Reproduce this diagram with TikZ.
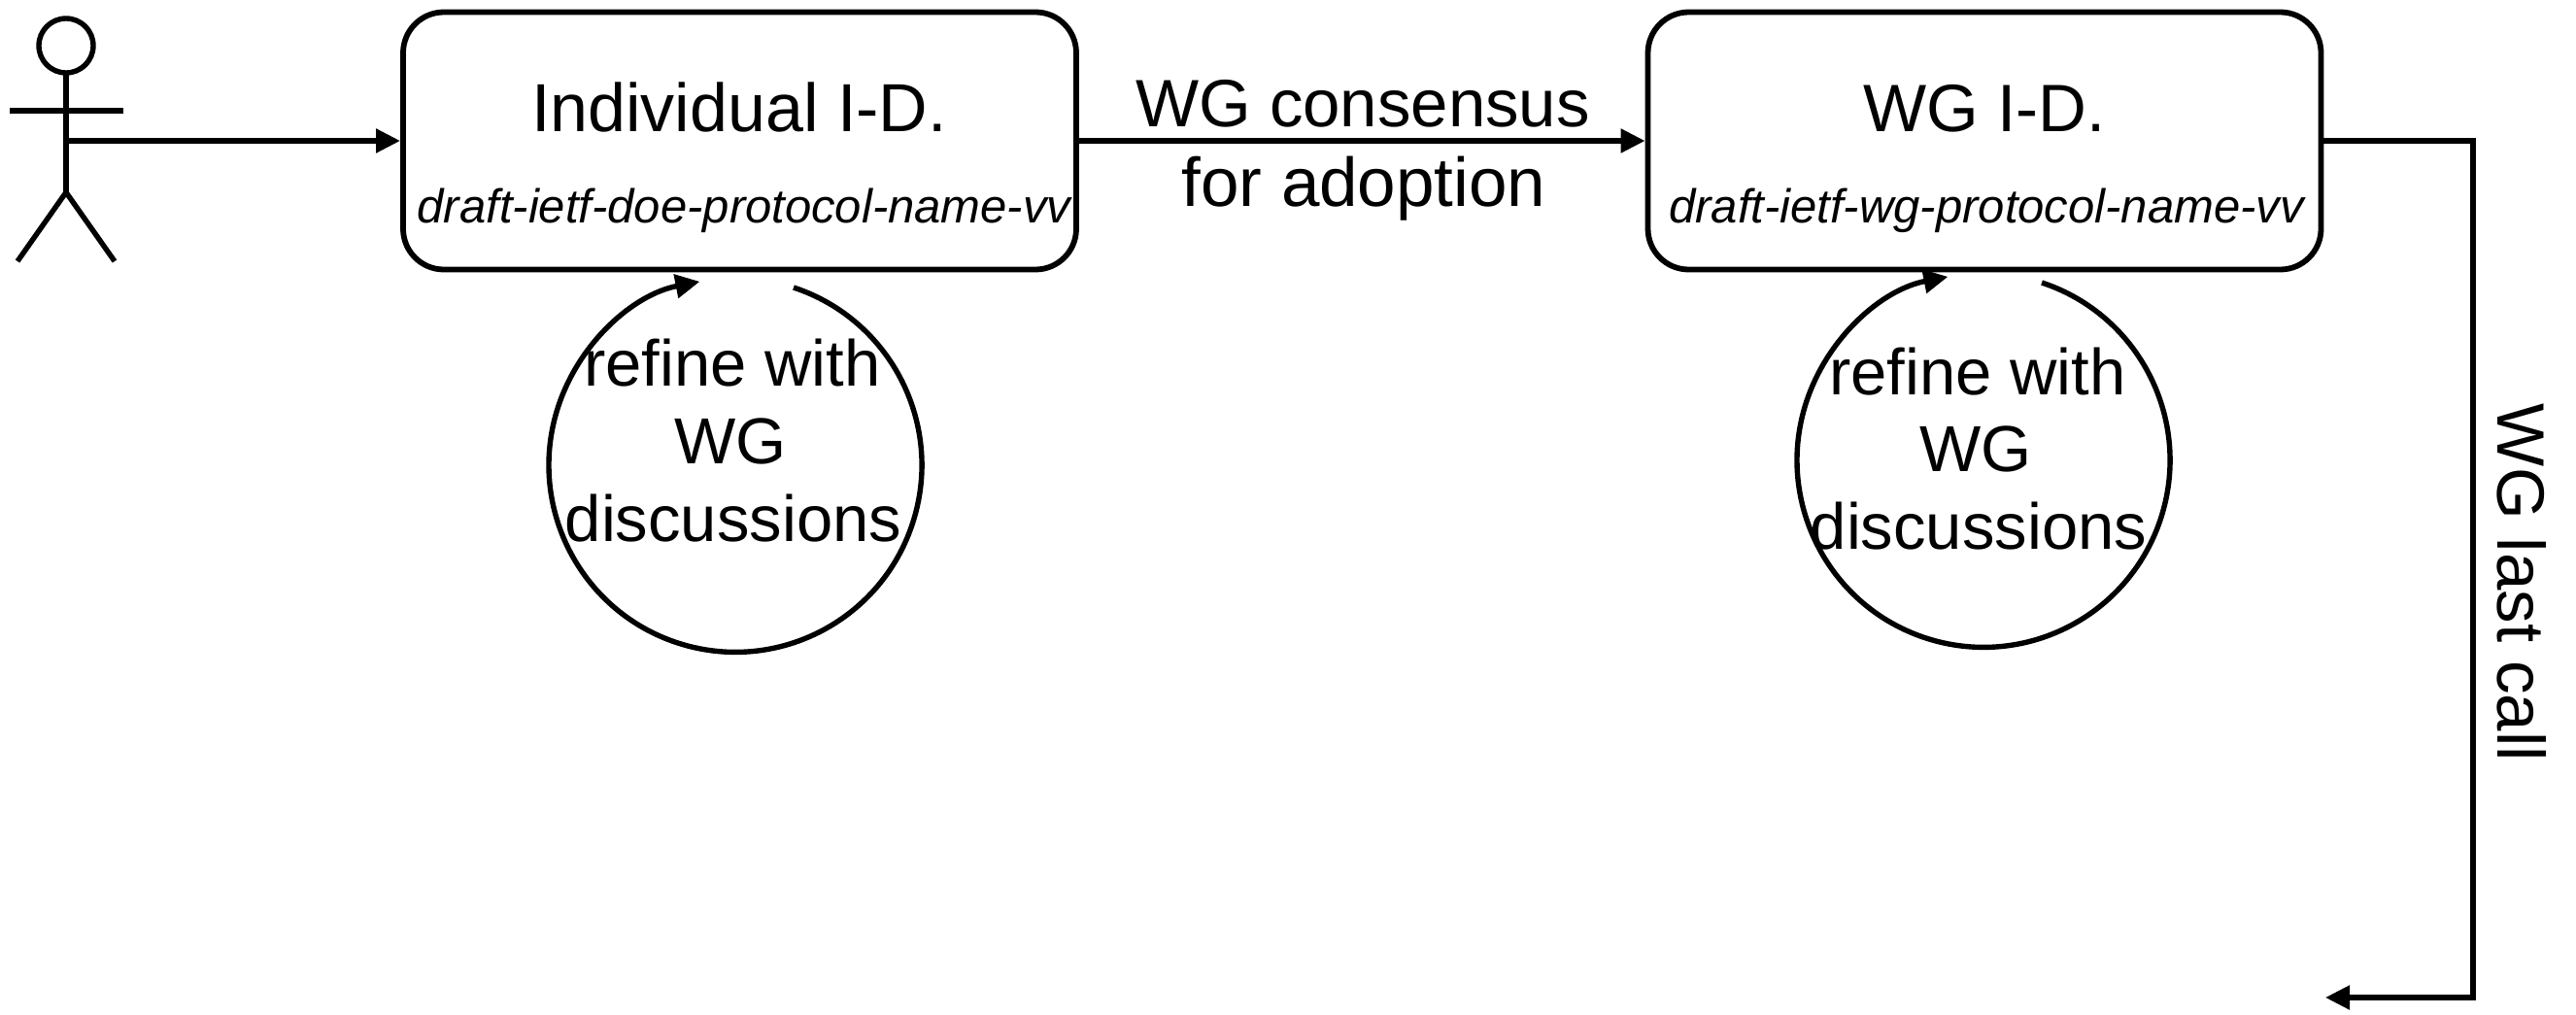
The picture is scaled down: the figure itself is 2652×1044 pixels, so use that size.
\documentclass[tikz,border=0pt]{standalone}
\usepackage{fontspec}
\setmainfont{Liberation Sans}
\usetikzlibrary{arrows.meta}
\tikzset{
  x=1pt,y=1pt,
  line/.style={line width=5.4pt,draw=black},
  arrowline/.style={line width=5.4pt,draw=black,-{Triangle[length=25pt,width=24pt]},shorten >=3pt},
  idbox/.style={draw=black,line width=5.8pt,rounded corners=42pt,minimum width=693pt,minimum height=265pt,inner sep=0pt,outer sep=0pt},
  big/.style={anchor=base,inner sep=0pt,font=\fontsize{69}{80}\selectfont},
  loopt/.style={anchor=base,inner sep=0pt,font=\fontsize{67}{80}\selectfont},
  large/.style={anchor=base,inner sep=0pt,font=\fontsize{70}{80}\selectfont},
  draftname/.style={anchor=base,inner sep=0pt,font=\fontsize{49}{60}\selectfont\itshape},
}
\begin{document}
\begin{tikzpicture}
\useasboundingbox (0,0) rectangle (2652,-1044);
% actor
\draw[line] (68,-47) circle (28);
\draw[line] (68,-75) -- (68,-198);
\draw[line] (10,-114) -- (127,-114);
\draw[line] (18,-269) -- (68,-198) -- (118,-269);
\coordinate (actor) at (68,-145);
% boxes
\node[idbox] (box1) at (761.5,-145) {};
\node[idbox] (box2) at (2043,-145) {};
\node[large] (t1) at (761,-135) {Individual I-D.};
\node[draftname] (d1) at (766,-229) {draft-ietf-doe-protocol-name-vv};
\node[big] (t2) at (2043,-135) {WG I-D.};
\node[draftname] (d2) at (2045,-229) {draft-ietf-wg-protocol-name-vv};
% connectors
\draw[arrowline] (actor) -- (box1.west);
\draw[arrowline] (box1.east) -- (box2.west);
\coordinate (turna) at (2546,-145);
\coordinate (turnb) at (2546,-1027);
\coordinate (exit) at (2391,-1027);
\draw[arrowline] (box2.east) -- (turna) -- (turnb) -- (exit);
% labels
\node[big] (c1) at (1403,-130) {WG consensus};
\node[large,font=\fontsize{71}{80}\selectfont] (c2) at (1404,-212) {for adoption};
\node[big,rotate=-90] (lc) at (2571,-600) {WG last call};
% loops
\coordinate (s1) at (817,-296);
\draw[arrowline,shorten >=0pt] (s1) arc[start angle=71.8,end angle=-259,x radius=192,y radius=192.5];
\coordinate (s2) at (2102,-291);
\draw[arrowline,shorten >=0pt] (s2) arc[start angle=71.8,end angle=-259,x radius=192,y radius=192.5];
\node[loopt] (r11) at (754,-397) {refine with};
\node[loopt] (r12) at (752,-477) {WG};
\node[loopt] (r13) at (755,-557) {discussions};
\node[loopt] (r21) at (2036,-406) {refine with};
\node[loopt] (r22) at (2034,-485) {WG};
\node[loopt] (r23) at (2037,-565) {discussions};
\end{tikzpicture}
\end{document}
